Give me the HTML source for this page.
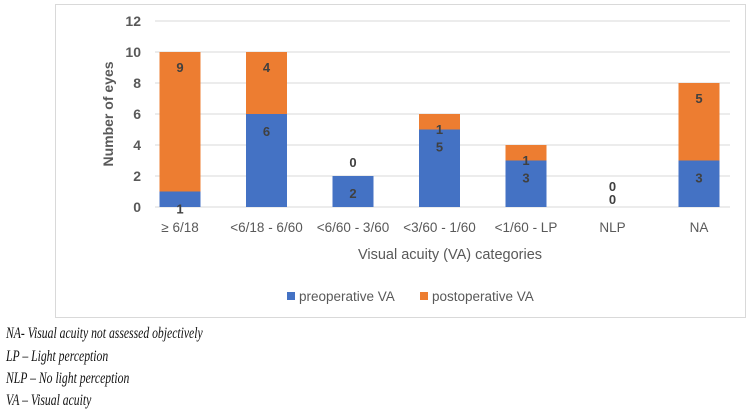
<!DOCTYPE html>
<html><head><meta charset="utf-8"><style>
body{margin:0;background:#fff;width:748px;height:410px;overflow:hidden}
svg text{font-family:"Liberation Sans",sans-serif}
.fn{position:absolute;left:6px;font-family:"Liberation Serif",serif;font-style:italic;font-size:16px;color:#111;transform:scaleX(0.73);transform-origin:0 0;white-space:nowrap}
</style></head><body>
<div style="position:absolute;left:0;top:0">
<svg id="chart" width="748" height="322" xmlns="http://www.w3.org/2000/svg"></svg>
</div>
<div class="fn" style="top:325px">NA- Visual acuity not assessed objectively</div>
<div class="fn" style="top:348px">LP – Light perception</div>
<div class="fn" style="top:370px">NLP – No light perception</div>
<div class="fn" style="top:392px">VA – Visual acuity</div>
<script>
const categories=["≥ 6/18","<6/18 - 6/60","<6/60 - 3/60","<3/60 - 1/60","<1/60 - LP","NLP","NA"];
const preop=[1,6,2,5,3,0,3];
const postop=[9,4,0,1,1,0,5];
const yTicks=[0,2,4,6,8,10,12];
const NS="http://www.w3.org/2000/svg";
const svg=document.getElementById('chart');
const x0=155,x1=730,yBase=207,yTop=21,yMax=12;
const y=v=>yBase-(v/yMax)*(yBase-yTop);
const xc=i=>180+i*86.5;
const bw=41;
function mk(tag,attrs,txt){const e=document.createElementNS(NS,tag);for(const k in attrs)e.setAttribute(k,attrs[k]);if(txt!==undefined)e.textContent=txt;svg.appendChild(e);return e;}
let f=mk('rect',{x:55.5,y:4.5,width:690,height:313,fill:'#fff',stroke:'#d9d9d9'});


yTicks.forEach(t=>{
 const g=mk('line',{x1:x0,x2:x1,y1:y(t),y2:y(t),stroke:'#d9d9d9','stroke-width':1});
 
 
 const l=mk('text',{x:141,y:y(t)+5,'text-anchor':'end','font-size':14,'font-weight':'bold',fill:'#595959'},t);
 
 
});
categories.forEach((c,i)=>{
 const cx=xc(i),a=preop[i],b=postop[i];
 if(a>0){const r=mk('rect',{x:cx-bw/2,y:y(a),width:bw,height:yBase-y(a),fill:'#4472c4'});
  
  }
 if(b>0){const r=mk('rect',{x:cx-bw/2,y:y(a+b),width:bw,height:y(a)-y(a+b),fill:'#ed7d31'});
  
  }
 const la=mk('text',{x:cx,y:a>0?y(a)+22:yBase-3,'text-anchor':'middle','font-size':13,'font-weight':'bold',fill:'#404040'},a);
 
 
 const lb=mk('text',{x:cx,y:b>0?y(a+b)+20:y(a+b)-(a>0?9:16),'text-anchor':'middle','font-size':13,'font-weight':'bold',fill:'#404040'},b);
 
 
 const xl=mk('text',{x:cx,y:232,'text-anchor':'middle','font-size':13.5,fill:'#595959'},c);
 
 
});
const yt=mk('text',{x:0,y:0,transform:'translate(113,114) rotate(-90)','text-anchor':'middle','font-size':14,'font-weight':'bold',fill:'#595959'},'Number of eyes');


const xt=mk('text',{x:450,y:259,'text-anchor':'middle','font-size':14.5,fill:'#595959'},'Visual acuity (VA) categories');


const s1=mk('rect',{x:287,y:292,width:8,height:8,fill:'#4472c4'});


const t1=mk('text',{x:299,y:301,'font-size':13.5,fill:'#595959'},'preoperative VA');


const s2=mk('rect',{x:420,y:292,width:8,height:8,fill:'#ed7d31'});


const t2=mk('text',{x:432,y:301,'font-size':13.5,fill:'#595959'},'postoperative VA');


</script>
</body></html>
